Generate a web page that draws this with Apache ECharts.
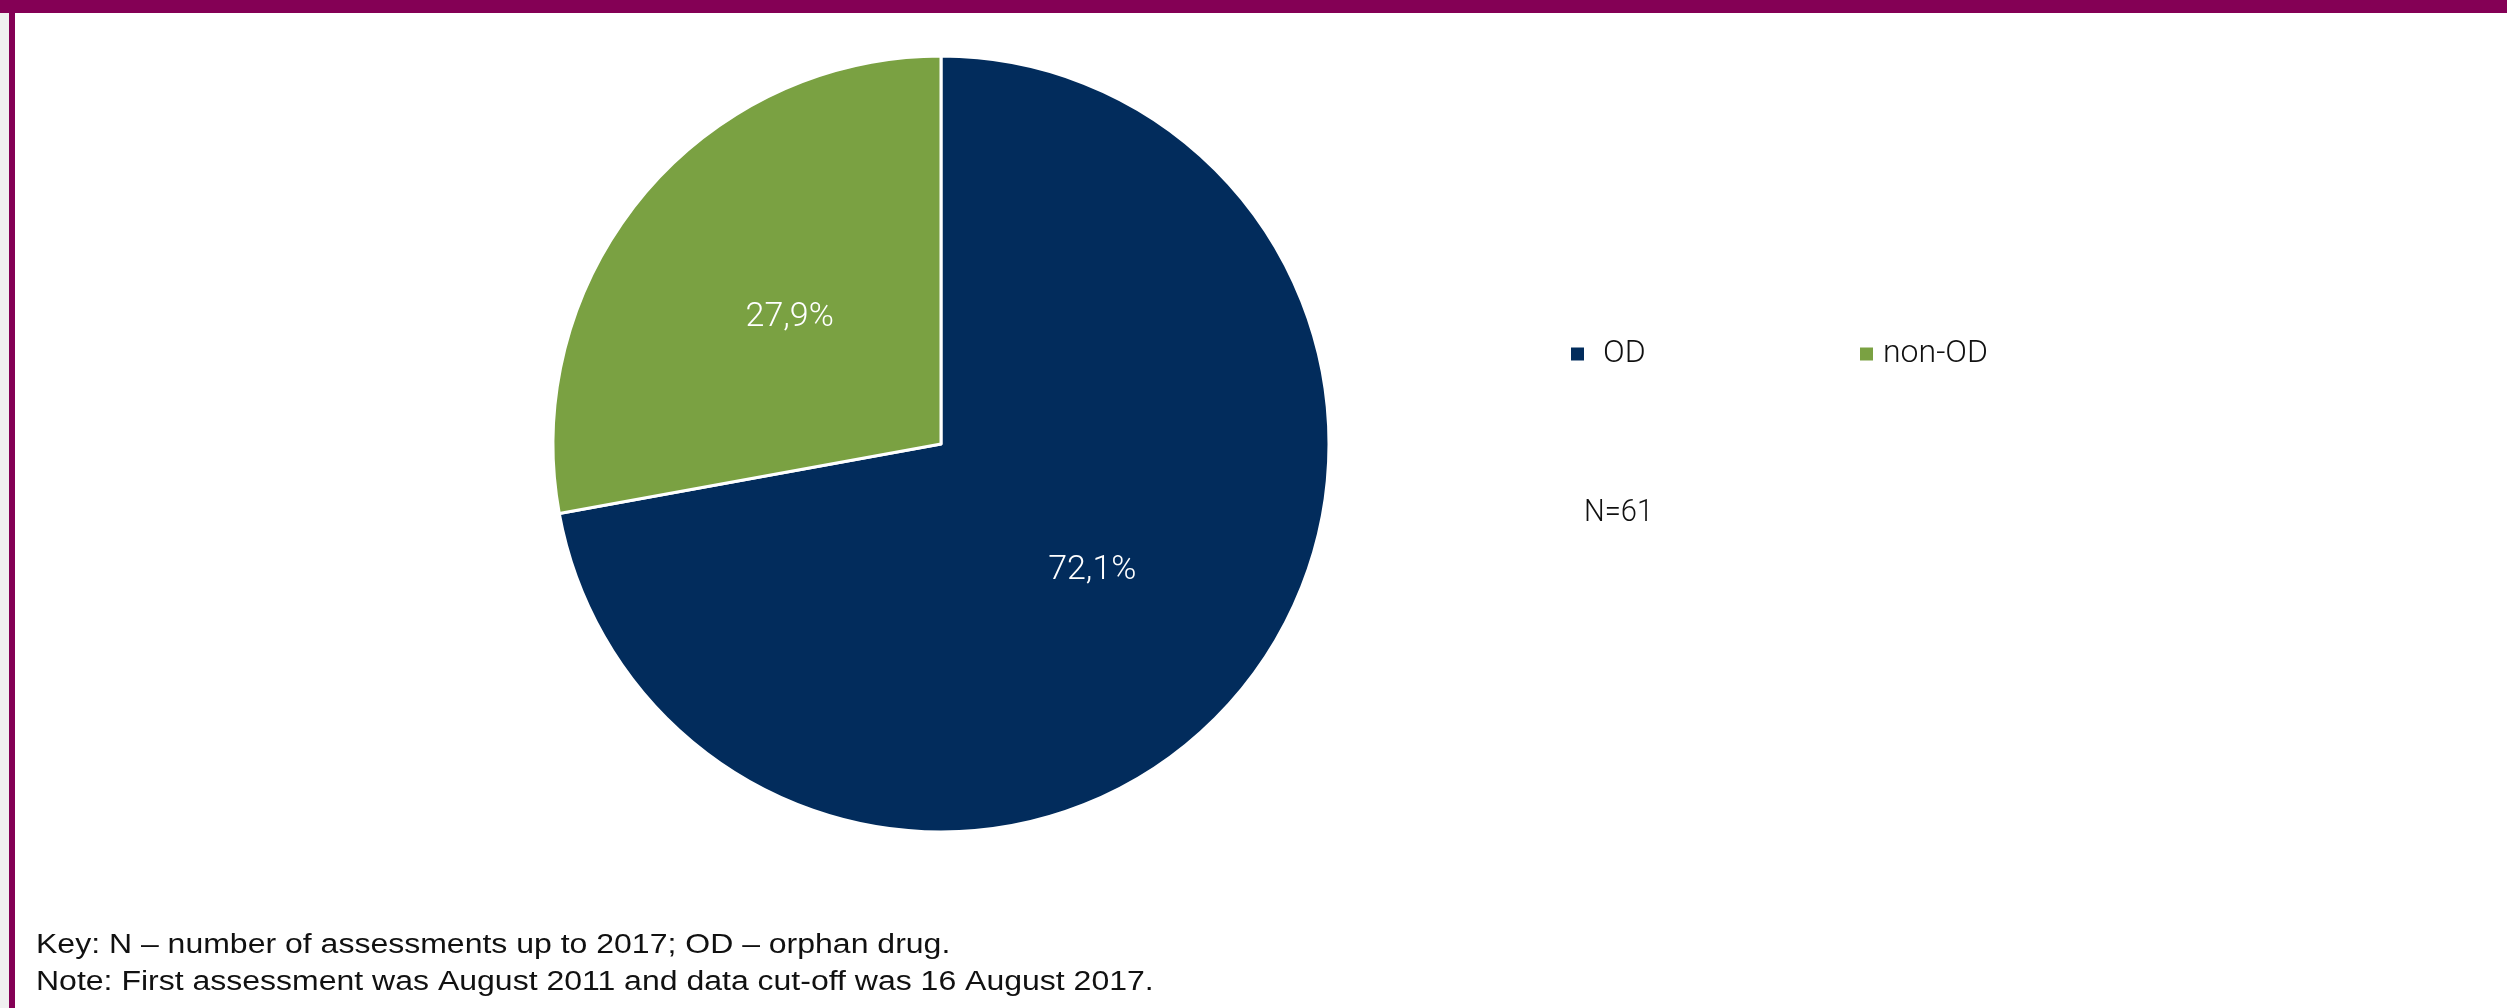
<!DOCTYPE html>
<html>
<head>
<meta charset="utf-8">
<script src="https://cdn.jsdelivr.net/npm/echarts@6/dist/echarts.min.js"></script>
<style>
  html, body { margin: 0; padding: 0; background: #fff; }
  #chart { width: 2507px; height: 1008px; }
</style>
</head>
<body>
<div id="chart"></div>
<script>
// share of assessments, N=61
var categories = ['OD', 'non-OD'];
var counts = [44, 17];
var colors = ['#022c5c', '#7aa142'];
var labels = ['72,1%', '27,9%'];
var notes = [
    'Key: N \u2013 number of assessments up to 2017; OD \u2013 orphan drug.',
    'Note: First assessment was August 2011 and data cut-off was 16 August 2017.'
];

var chart = echarts.init(document.getElementById('chart'));

var narrow = 'Roboto, "DejaVu Sans Condensed", sans-serif';

var pieData = [];
for (var i = 0; i < categories.length; i++) {
    pieData.push({
        name: categories[i],
        value: counts[i],
        itemStyle: { color: colors[i] },
        label: { formatter: labels[i] }
    });
}

var option = {
    backgroundColor: '#fff',
    animation: false,
    legend: [
        {
            data: [categories[0]],
            left: 1564, top: 333,
            icon: 'rect', itemWidth: 15, itemHeight: 15, itemGap: 0,
            selectedMode: false,
            textStyle: { fontFamily: narrow, fontWeight: 300, fontSize: 32, color: '#111', padding: [0, 0, 0, 13] }
        },
        {
            data: [categories[1]],
            left: 1853, top: 333,
            icon: 'rect', itemWidth: 15, itemHeight: 15, itemGap: 0,
            selectedMode: false,
            textStyle: { fontFamily: narrow, fontWeight: 300, fontSize: 32, color: '#111', padding: [0, 0, 0, 4] }
        }
    ],
    series: [
        {
            type: 'pie',
            center: [941, 444],
            radius: [0, 388],
            startAngle: 90,
            clockwise: true,
            itemStyle: { borderColor: '#fff', borderWidth: 3 },
            label: {
                show: true,
                position: 'inside',
                color: '#fff',
                fontFamily: narrow,
                fontWeight: 300,
                fontSize: 34
            },
            labelLine: { show: false },
            emphasis: { disabled: true },
            data: pieData
        }
    ],
    graphic: [
        // frame
        { type: 'rect', left: 0, top: 0, shape: { width: 9, height: 1008 }, style: { fill: '#f0f0f0' }, silent: true },
        { type: 'rect', left: 9, top: 0, shape: { width: 6, height: 1008 }, style: { fill: '#840055' }, silent: true },
        { type: 'rect', left: 0, top: 0, shape: { width: 2507, height: 13 }, style: { fill: '#840055' }, silent: true },
        {
            type: 'text', x: 1584, y: 513, scaleX: 0.91,
            style: { text: 'N=61', fontFamily: narrow, fontWeight: 300, fontSize: 32, fill: '#111', verticalAlign: 'middle' }
        },
        {
            type: 'text', x: 36, y: 945, scaleY: 0.88,
            style: { text: notes[0], fontFamily: '"Liberation Sans", Arial, sans-serif', fontSize: 32, fill: '#111', verticalAlign: 'middle' }
        },
        {
            type: 'text', x: 36, y: 982, scaleY: 0.88,
            style: { text: notes[1], fontFamily: '"Liberation Sans", Arial, sans-serif', fontSize: 32, fill: '#111', verticalAlign: 'middle' }
        }
    ]
};

chart.setOption(option);
</script>
</body>
</html>
